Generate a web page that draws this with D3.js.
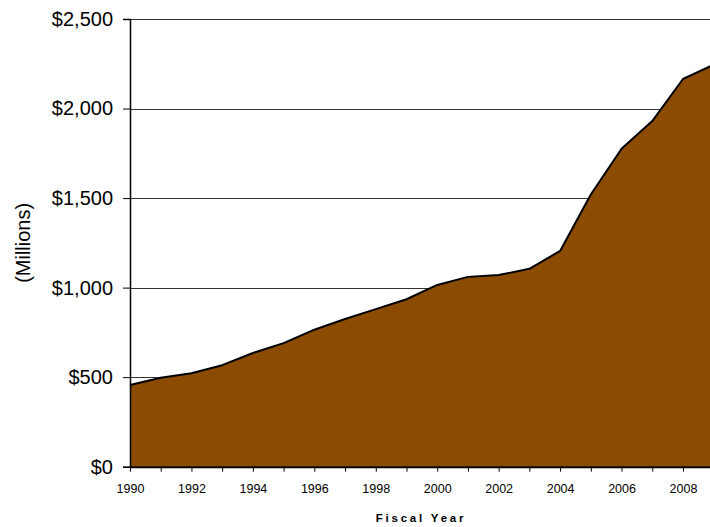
<!DOCTYPE html>
<html>
<head>
<meta charset="utf-8">
<script src="https://cdn.jsdelivr.net/npm/d3@7"></script>
<style>
  html, body { margin: 0; padding: 0; background: #fff; }
  svg { display: block; }
  text { font-family: "Liberation Sans", Arial, sans-serif; fill: #000; }
</style>
</head>
<body>
<div id="chart"></div>
<script>
// Data (values in millions of dollars)
const years = [1990,1991,1992,1993,1994,1995,1996,1997,1998,1999,2000,2001,2002,2003,2004,2005,2006,2007,2008,2009];
const values = [456,497,522,567,635,690,765,825,880,935,1015,1060,1070,1105,1205,1520,1775,1930,2165,2245];
const yTicks = [0,500,1000,1500,2000,2500];
const xTickLabels = [1990,1992,1994,1996,1998,2000,2002,2004,2006,2008];
const yTitle = "(Millions)";
const xTitle = "Fiscal Year";

const W = 710, H = 527;
const svg = d3.select("#chart").append("svg").attr("width", W).attr("height", H);

const x = d3.scaleLinear().domain([1990, 2009]).range([130, 713.7]);
const y = d3.scaleLinear().domain([0, 2500]).range([466.7, 19]);

const data = years.map((yr, i) => ({ yr, v: values[i] }));

// Gridlines
svg.append("g").selectAll("line").data(yTicks.filter(d => d > 0)).join("line")
  .attr("x1", x(1990)).attr("x2", W)
  .attr("y1", d => Math.round(y(d)) + 0.5).attr("y2", d => Math.round(y(d)) + 0.5)
  .attr("stroke", "#333").attr("stroke-width", 1);

// Area
const area = d3.area().x(d => x(d.yr)).y0(y(0)).y1(d => y(d.v));
const line = d3.line().x(d => x(d.yr)).y(d => y(d.v));
svg.append("path").datum(data).attr("d", area).attr("fill", "#8B4B00");
svg.append("path").datum(data).attr("d", line)
  .attr("fill", "none").attr("stroke", "#000").attr("stroke-width", 2).attr("stroke-linejoin", "round");

// Y axis
const yAxis = d3.axisLeft(y).tickValues(yTicks).tickSize(7).tickPadding(10)
  .tickFormat(d => "$" + d3.format(",")(d));
const gy = svg.append("g").attr("transform", `translate(${x(1990)},0)`).call(yAxis);
gy.select(".domain").attr("stroke", "#000").attr("stroke-width", 1.5);
gy.selectAll(".tick line").attr("stroke", "#000");
gy.selectAll(".tick text").attr("font-size", 20).attr("font-family", "Liberation Sans, Arial, sans-serif").attr("fill", "#000");

// X axis
const xAxis = d3.axisBottom(x).tickValues(d3.range(1990, 2010)).tickSize(5).tickSizeOuter(0).tickPadding(12)
  .tickFormat(d => xTickLabels.includes(d) ? String(d) : "");
const gx = svg.append("g").attr("transform", `translate(0,${y(0)})`).call(xAxis);
gx.select(".domain").attr("stroke", "#000").attr("stroke-width", 2);
gx.selectAll(".tick line").attr("stroke", "#000");
gx.selectAll(".tick text").attr("font-size", 12.5).attr("font-family", "Liberation Sans, Arial, sans-serif").attr("fill", "#000");

// Axis titles
svg.append("text")
  .attr("transform", `translate(30,${(y(0) + y(2500)) / 2}) rotate(-90)`)
  .attr("text-anchor", "middle").attr("font-size", 20)
  .text(yTitle);
svg.append("text")
  .attr("x", 421).attr("y", 522)
  .attr("text-anchor", "middle").attr("font-size", 11.5).attr("font-weight", "bold")
  .attr("letter-spacing", "2.8px")
  .text(xTitle);
</script>
</body>
</html>
